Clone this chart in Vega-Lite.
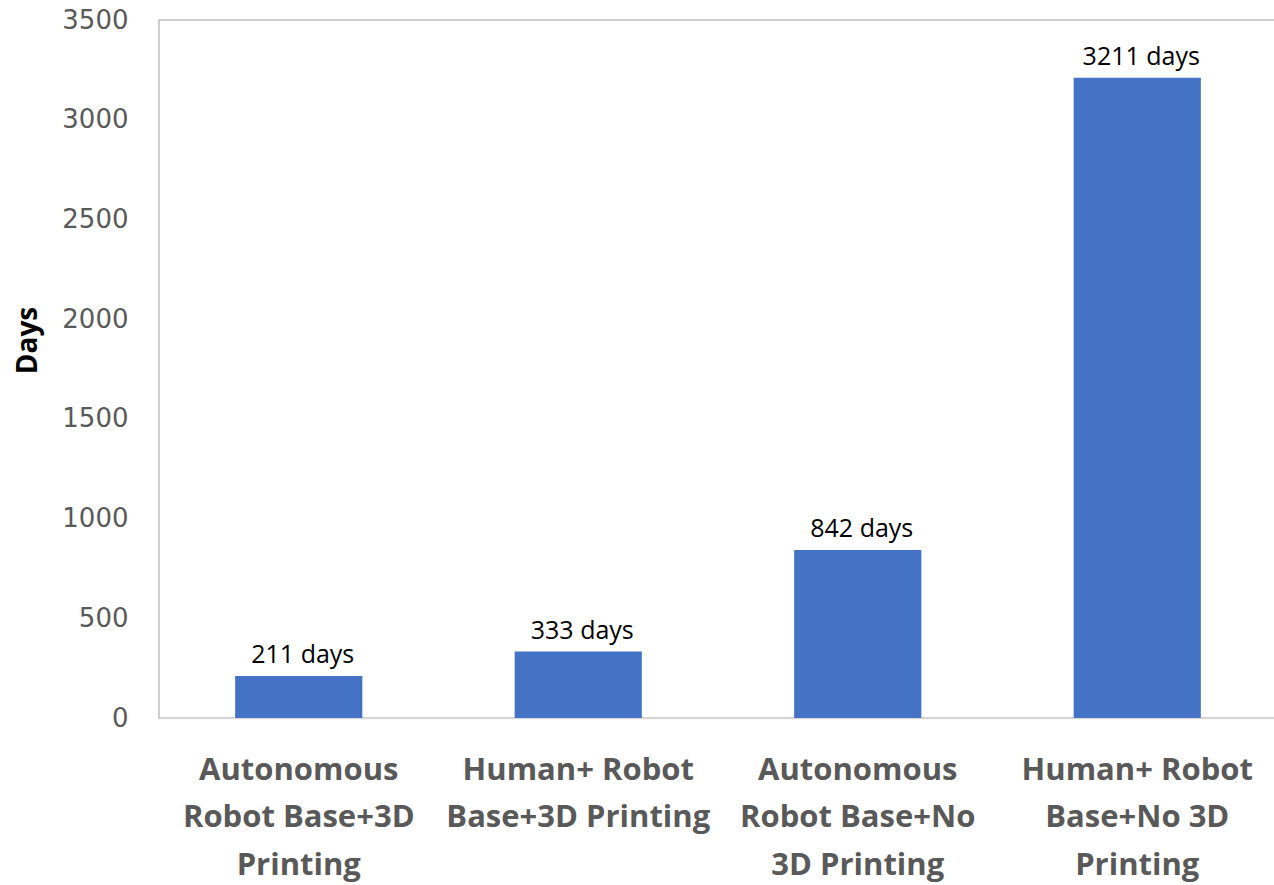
{
  "$schema": "https://vega.github.io/schema/vega-lite/v6.json",
  "width": 1118,
  "height": 698,
  "padding": {"left": 159, "top": 20, "right": 0, "bottom": 167},
  "autosize": {"type": "none"},
  "background": "white",
  "config": {
    "font": "Open Sans",
    "view": {"stroke": "#bfbfbf", "strokeWidth": 1.5}
  },
  "data": {
    "values": [
      {"scenario": "Autonomous Robot Base+3D Printing", "days": 211},
      {"scenario": "Human+ Robot Base+3D Printing", "days": 333},
      {"scenario": "Autonomous Robot Base+No 3D Printing", "days": 842},
      {"scenario": "Human+ Robot Base+No 3D Printing", "days": 3211}
    ]
  },
  "encoding": {
    "x": {
      "field": "scenario",
      "type": "nominal",
      "sort": null,
      "scale": {"paddingInner": 0.545, "paddingOuter": 0.2725},
      "axis": {
        "title": null,
        "labelAngle": 0,
        "ticks": false,
        "domainColor": "#d9d9d9",
        "domainWidth": 1.5,
        "labelFont": "Open Sans",
        "labelFontWeight": "bold",
        "labelFontSize": 31,
        "labelColor": "#595959",
        "labelLineHeight": 47.5,
        "labelLimit": 0,
        "labelOverlap": false,
        "labelPadding": 61,
        "labelBaseline": "alphabetic",
        "labelExpr": "datum.value == 'Autonomous Robot Base+3D Printing' ? ['Autonomous', 'Robot Base+3D', 'Printing'] : datum.value == 'Human+ Robot Base+3D Printing' ? ['Human+ Robot', 'Base+3D Printing'] : datum.value == 'Autonomous Robot Base+No 3D Printing' ? ['Autonomous', 'Robot Base+No', '3D Printing'] : ['Human+ Robot', 'Base+No 3D', 'Printing']"
      }
    },
    "y": {
      "field": "days",
      "type": "quantitative",
      "scale": {"domain": [0, 3500], "nice": false},
      "axis": {
        "title": "Days",
        "titleFont": "Open Sans",
        "titleFontSize": 28,
        "titleFontWeight": "bold",
        "titleColor": "#000000",
        "titlePadding": 19,
        "titleY": 320,
        "values": [0, 500, 1000, 1500, 2000, 2500, 3000, 3500],
        "format": "d",
        "grid": false,
        "ticks": false,
        "domain": false,
        "labelFont": "DejaVu Sans",
        "labelFontSize": 26,
        "labelColor": "#595959",
        "labelPadding": 31
      }
    }
  },
  "layer": [
    {"mark": {"type": "bar", "color": "#4472C4"}},
    {
      "transform": [{"calculate": "datum.days + ' days'", "as": "label"}],
      "mark": {"type": "text", "baseline": "alphabetic", "dy": -13, "dx": 4, "fontSize": 25, "color": "#000000", "font": "Open Sans"},
      "encoding": {"text": {"field": "label", "type": "nominal"}}
    }
  ]
}
